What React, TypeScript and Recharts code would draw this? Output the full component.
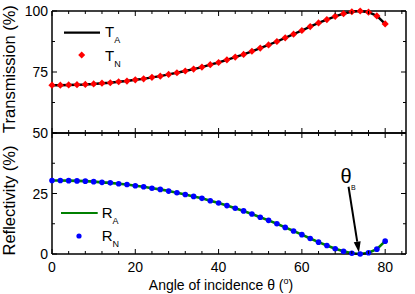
import React from 'react';
import { LineChart, Line, XAxis, YAxis, ReferenceLine, Legend } from 'recharts';

const FONT = '"Liberation Sans", Arial, Helvetica, sans-serif';

// Angle of incidence (degrees)
const angles = [0, 2, 4, 6, 8, 10, 12, 14, 16, 18, 20, 22, 24, 26, 28, 30, 32, 34, 36, 38, 40, 42, 44, 46, 48, 50, 52, 54, 56, 58, 60, 62, 64, 66, 68, 70, 72, 74, 76, 78, 80];
// Transmission (%)
const transmission = [69.6, 69.6, 69.7, 69.8, 69.9, 70.1, 70.4, 70.6, 71.0, 71.3, 71.8, 72.2, 72.8, 73.3, 74.0, 74.7, 75.4, 76.2, 77.0, 78.0, 78.9, 80.0, 81.1, 82.2, 83.5, 84.8, 86.1, 87.5, 89.0, 90.5, 92.0, 93.6, 95.1, 96.5, 97.8, 98.9, 99.7, 100.0, 99.5, 98.0, 94.7];
// Reflectivity (%)
const reflectivity = [30.4, 30.4, 30.3, 30.2, 30.1, 29.9, 29.6, 29.4, 29.0, 28.7, 28.2, 27.8, 27.2, 26.7, 26.0, 25.3, 24.6, 23.8, 23.0, 22.0, 21.1, 20.0, 18.9, 17.8, 16.5, 15.2, 13.9, 12.5, 11.0, 9.5, 8.0, 6.4, 4.9, 3.5, 2.2, 1.1, 0.3, 0.0, 0.5, 2.0, 5.3];

const xMajorTicks = [0, 20, 40, 60, 80];
const xAllTicks = [0, 4, 8, 12, 16, 20, 24, 28, 32, 36, 40, 44, 48, 52, 56, 60, 64, 68, 72, 76, 80, 84];
const tTicks = [50, 62.5, 75, 87.5, 100];
const tLabels = [50, 75, 100];
const rTicks = [0, 12.5, 25, 37.5, 50];
const rLabels = [0, 25];

const tData = angles.map((a, i) => ({ angle: a, tA: transmission[i], tN: transmission[i] }));
const rData = angles.map((a, i) => ({ angle: a, rA: reflectivity[i], rN: reflectivity[i] }));

const W = 415;
const H = 294;

const makeXTick = (dir: number, showLabel: boolean) => (props: any) => {
  const { x, y, payload, index } = props;
  const v = payload.value;
  const major = xMajorTicks.includes(v);
  return (
    <g key={`xt${index}`}>
      <line x1={x} x2={x} y1={y} y2={y + dir * (major ? 5 : 3)} stroke="#000" strokeWidth={1} />
      {showLabel && major ? (
        <text x={x} y={y + 18} textAnchor="middle" fontSize={14} fontFamily={FONT} fill="#000">
          {v}
        </text>
      ) : null}
    </g>
  );
};

const makeYTick = (dir: number, labels: number[]) => (props: any) => {
  const { x, y, payload, index } = props;
  const v = payload.value;
  const major = v % 25 === 0;
  return (
    <g key={`yt${index}`}>
      <line x1={x} x2={x + dir * (major ? 5 : 3)} y1={y} y2={y} stroke="#000" strokeWidth={1} />
      {labels.includes(v) ? (
        <text x={x - 4} y={y} dy="0.36em" textAnchor="end" fontSize={14} fontFamily={FONT} fill="#000">
          {v}
        </text>
      ) : null}
    </g>
  );
};

const YTitle = (props: any) => {
  const { viewBox, text, shift } = props;
  const cy = viewBox.y + viewBox.height / 2 + shift;
  const bx = 15;
  return (
    <text
      x={bx}
      y={cy}
      transform={`rotate(-90, ${bx}, ${cy})`}
      textAnchor="middle"
      fontSize={16.5}
      fontFamily={FONT}
      fill="#000"
    >
      {text}
    </text>
  );
};

const XTitle = (props: any) => {
  const { viewBox } = props;
  const cx = viewBox.x + viewBox.width / 2 - 8;
  return (
    <text x={cx} y={290} textAnchor="middle" fontSize={14} fontFamily={FONT} fill="#000">
      Angle of incidence θ (
      <tspan fontSize={9} dy={-6}>o</tspan>
      <tspan dy={6}>)</tspan>
    </text>
  );
};

const Diamond = (props: any) => {
  const { cx, cy, index } = props;
  if (cx == null || cy == null) return <g key={`d${index}`} />;
  const s = 3.6;
  return (
    <path
      key={`d${index}`}
      d={`M${cx},${cy - s}L${cx + s},${cy}L${cx},${cy + s}L${cx - s},${cy}Z`}
      fill="#ff0000"
      stroke="none"
    />
  );
};

const BlueDot = (props: any) => {
  const { cx, cy, index } = props;
  if (cx == null || cy == null) return <g key={`b${index}`} />;
  return <circle key={`b${index}`} cx={cx} cy={cy} r={2.8} fill="#0000ff" stroke="none" />;
};

const BrewsterArrow = (props: any) => {
  const { x1, y1, x2, y2 } = props;
  const dx = x2 - x1;
  const dy = y2 - y1;
  const L = Math.hypot(dx, dy) || 1;
  const ux = dx / L;
  const uy = dy / L;
  const head = 11;
  const hw = 3.5;
  const bx = x2 - ux * head;
  const by = y2 - uy * head;
  const px = -uy;
  const py = ux;
  return (
    <g>
      <line x1={x1} y1={y1} x2={bx} y2={by} stroke="#000" strokeWidth={2} />
      <path d={`M${x2},${y2}L${bx + px * hw},${by + py * hw}L${bx - px * hw},${by - py * hw}Z`} fill="#000" />
      <text x={x1 - 8} y={y1 - 4} fontSize={20} fontFamily={FONT} fill="#000">θ</text>
      <text x={x1 + 2.5} y={y1 + 3.5} fontSize={7} fontFamily={FONT} fill="#000">B</text>
    </g>
  );
};

const TLegend = () => (
  <svg width={80} height={52} style={{ display: 'block', overflow: 'visible' }}>
    <line x1={9} x2={45} y1={12.7} y2={12.7} stroke="#000" strokeWidth={2.2} />
    <text x={50} y={16.7} fontSize={15} fontFamily={FONT} fill="#000">
      T<tspan fontSize={9} dy={6}>A</tspan>
    </text>
    <path d="M26.7,31.5L30.2,35L26.7,38.5L23.2,35Z" fill="#ff0000" />
    <text x={50} y={40.7} fontSize={15} fontFamily={FONT} fill="#000">
      T<tspan fontSize={9} dy={6}>N</tspan>
    </text>
  </svg>
);

const RLegend = () => (
  <svg width={80} height={52} style={{ display: 'block', overflow: 'visible' }}>
    <line x1={6} x2={42.7} y1={13} y2={13} stroke="#008000" strokeWidth={2.2} />
    <text x={46.7} y={18} fontSize={15} fontFamily={FONT} fill="#000">
      R<tspan fontSize={9} dy={6}>A</tspan>
    </text>
    <circle cx={24} cy={36} r={2.6} fill="#0000ff" />
    <text x={46.7} y={41} fontSize={15} fontFamily={FONT} fill="#000">
      R<tspan fontSize={9} dy={6}>N</tspan>
    </text>
  </svg>
);

const axisLine = { stroke: '#000', strokeWidth: 1.5 };

export default function App() {
  return (
    <div style={{ position: 'absolute', left: 0, top: 0, width: W, height: H, background: '#fff' }}>
      <div style={{ position: 'absolute', left: 0, top: 0 }}>
        <LineChart width={W} height={H} data={tData} margin={{ top: 10, right: 8, bottom: 160, left: 8 }}>
          <XAxis xAxisId="b" dataKey="angle" type="number" domain={[0, 85]} ticks={xAllTicks} interval={0}
            orientation="bottom" height={1} tickSize={0} tickMargin={0} tickLine={false} axisLine={axisLine}
            tick={makeXTick(-1, false)} />
          <XAxis xAxisId="t" dataKey="angle" type="number" domain={[0, 85]} ticks={xAllTicks} interval={0}
            orientation="top" height={1} tickSize={0} tickMargin={0} tickLine={false} axisLine={axisLine}
            tick={makeXTick(1, false)} />
          <YAxis yAxisId="l" type="number" domain={[50, 100]} ticks={tTicks} interval={0} width={44}
            tickSize={0} tickMargin={0} tickLine={false} axisLine={axisLine} tick={makeYTick(1, tLabels)}
            label={<YTitle text="Transmission (%)" shift={-3} />} />
          <YAxis yAxisId="r" type="number" domain={[50, 100]} ticks={tTicks} interval={0} width={1}
            orientation="right" tickSize={0} tickMargin={0} tickLine={false} axisLine={axisLine}
            tick={makeYTick(-1, [])} />
          <Line xAxisId="t" yAxisId="r" dataKey="tA" stroke="none" dot={false} activeDot={false}
            legendType="none" isAnimationActive={false} />
          <Line xAxisId="b" yAxisId="l" dataKey="tA" name="T_A" stroke="#000" strokeWidth={2.4} dot={false}
            activeDot={false} isAnimationActive={false} />
          <Line xAxisId="b" yAxisId="l" dataKey="tN" name="T_N" stroke="none" dot={Diamond}
            activeDot={false} isAnimationActive={false} />
          <Legend layout="horizontal" verticalAlign="middle" align="center" content={() => <TLegend />}
            wrapperStyle={{ left: 55, top: 20, width: 80, height: 52 }} />
        </LineChart>
      </div>
      <div style={{ position: 'absolute', left: 0, top: 0 }}>
        <LineChart width={W} height={H} data={rData} margin={{ top: 132, right: 8, bottom: 39, left: 8 }}>
          <XAxis xAxisId="b" dataKey="angle" type="number" domain={[0, 85]} ticks={xAllTicks} interval={0}
            orientation="bottom" height={1} tickSize={0} tickMargin={0} tickLine={false} axisLine={axisLine}
            tick={makeXTick(-1, true)} label={<XTitle />} />
          <XAxis xAxisId="t" dataKey="angle" type="number" domain={[0, 85]} ticks={xAllTicks} interval={0}
            orientation="top" height={1} tickSize={0} tickMargin={0} tickLine={false} axisLine={axisLine}
            tick={makeXTick(1, false)} />
          <YAxis yAxisId="l" type="number" domain={[0, 50]} ticks={rTicks} interval={0} width={44}
            tickSize={0} tickMargin={0} tickLine={false} axisLine={axisLine} tick={makeYTick(1, rLabels)}
            label={<YTitle text="Reflectivity (%)" shift={7} />} />
          <YAxis yAxisId="r" type="number" domain={[0, 50]} ticks={rTicks} interval={0} width={1}
            orientation="right" tickSize={0} tickMargin={0} tickLine={false} axisLine={axisLine}
            tick={makeYTick(-1, [])} />
          <Line xAxisId="t" yAxisId="r" dataKey="rA" stroke="none" dot={false} activeDot={false}
            legendType="none" isAnimationActive={false} />
          <Line xAxisId="b" yAxisId="l" dataKey="rA" name="R_A" stroke="#008000" strokeWidth={2.6} dot={false}
            activeDot={false} isAnimationActive={false} />
          <Line xAxisId="b" yAxisId="l" dataKey="rN" name="R_N" stroke="none" dot={BlueDot}
            activeDot={false} isAnimationActive={false} />
          <ReferenceLine xAxisId="b" yAxisId="l" segment={[{ x: 71.2, y: 27.8 }, { x: 73.7, y: 0.6 }]}
            shape={BrewsterArrow} ifOverflow="visible" />
          <Legend layout="horizontal" verticalAlign="middle" align="center" content={() => <RLegend />}
            wrapperStyle={{ left: 55, top: 200, width: 80, height: 52 }} />
        </LineChart>
      </div>
    </div>
  );
}
